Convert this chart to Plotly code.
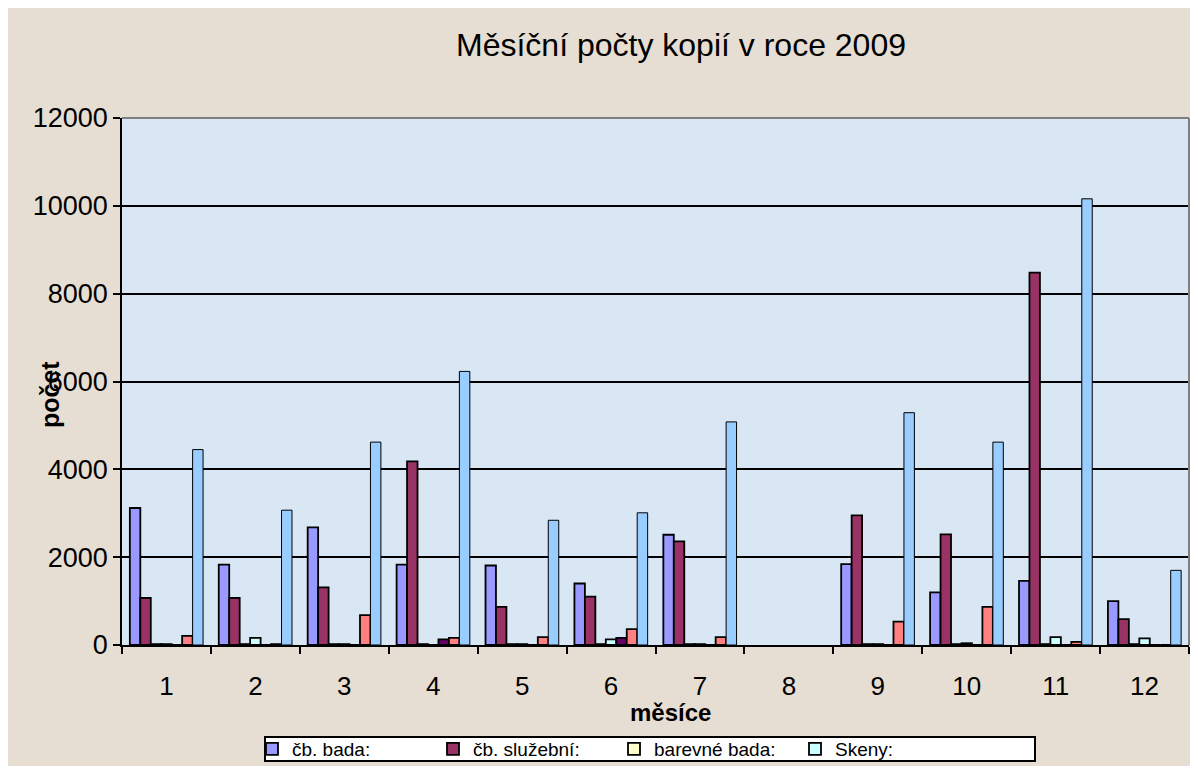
import plotly.graph_objects as go

months = ["1", "2", "3", "4", "5", "6", "7", "8", "9", "10", "11", "12"]

cb_bada = [3120, 1830, 2680, 1830, 1810, 1400, 2510, None, 1840, 1200, 1460, 1000]
cb_sluzebni = [1070, 1070, 1310, 4180, 870, 1100, 2360, None, 2950, 2520, 8480, 590]
barevne_bada = [20, 20, 20, 20, 20, 20, 20, None, 20, 20, 20, 20]
skeny = [20, 160, 20, 0, 20, 130, 20, None, 20, 40, 180, 150]
serie5 = [0, 0, 0, 130, 0, 160, 0, None, 0, 0, 0, 0]
serie6 = [210, 20, 680, 160, 180, 360, 180, None, 530, 870, 70, 0]
serie7 = [4450, 3070, 4620, 6230, 2840, 3010, 5080, None, 5290, 4620, 10160, 1700]

series = [
    ("čb. bada:", cb_bada, "#9999FF", True, 1.8),
    ("čb. služební:", cb_sluzebni, "#993366", True, 1.8),
    ("barevné bada:", barevne_bada, "#FFFFCC", True, 1.8),
    ("Skeny:", skeny, "#CCFFFF", True, 1.8),
    ("řada 5", serie5, "#660066", False, 1.8),
    ("řada 6", serie6, "#FF8080", False, 1.8),
    ("řada 7", serie7, "#99CCFF", False, 1.0),
]

FONT = "Liberation Sans, Arial, sans-serif"

fig = go.Figure()
for name, vals, color, show, lw in series:
    fig.add_trace(go.Bar(
        x=months, y=vals, name=name, showlegend=show,
        marker=dict(color=color, line=dict(color="#000000", width=lw)),
    ))

OFF = 8  # page body margin
W, H = 1198 - 2 * OFF, 774 - 2 * OFF
L, R, T, B = 114, 1, 110, 121
pw, ph = W - L - R, H - T - B


def px(x):
    return (x - OFF - L) / pw


def py(y):
    return (H - B - (y - OFF)) / ph


fig.update_layout(
    width=W, height=H,
    margin=dict(l=L, r=R, t=T, b=B, pad=0, autoexpand=False),
    paper_bgcolor="#E6DED2",
    plot_bgcolor="#D9E7F5",
    barmode="group",
    bargap=0.1765,
    bargroupgap=0,
    font=dict(family=FONT, color="#000000", size=18),
    title=dict(text="Měsíční počty kopií v roce 2009", x=(681 - OFF) / W, xanchor="center",
               y=1 - (45 - OFF) / H, yanchor="middle", yref="container",
               font=dict(family=FONT, size=32, color="#000000")),
    xaxis=dict(
        showgrid=False, showline=True, linecolor="#000000", linewidth=2,
        ticks="outside", ticklen=7, tickwidth=1.5, tickcolor="#000000",
        tickson="boundaries", tickfont=dict(size=26, family=FONT, color="#000000"),
        ticklabelstandoff=17, zeroline=False,
    ),
    yaxis=dict(
        range=[0, 12000], dtick=2000, tickformat="d",
        showgrid=True, gridcolor="#000000", gridwidth=2,
        showline=True, linecolor="#000000", linewidth=1.5,
        ticks="outside", ticklen=7, tickwidth=1.5, tickcolor="#000000",
        tickfont=dict(size=27, family=FONT, color="#000000"), zeroline=False,
    ),
    legend=dict(
        orientation="h", x=px(252), xanchor="left", y=py(749), yanchor="middle",
        bgcolor="rgba(0,0,0,0)", borderwidth=0,
        font=dict(size=19, family=FONT, color="#000000"),
        entrywidth=136, entrywidthmode="pixels",
        itemwidth=30, tracegroupgap=0,
    ),
    annotations=[
        dict(text="<b>měsíce</b>", x=px(670), y=py(713), xref="paper", yref="paper",
             showarrow=False, xanchor="center", yanchor="middle",
             font=dict(size=24, family=FONT, color="#000000")),
        dict(text="<b>počet</b>", x=px(50), y=py(395), xref="paper", yref="paper",
             showarrow=False, textangle=-90, xanchor="center", yanchor="middle",
             font=dict(size=25, family=FONT, color="#000000")),
    ],
    shapes=[
        dict(type="line", xref="paper", yref="paper", x0=0, x1=1, y0=1, y1=1,
             line=dict(color="#7F7F7F", width=2)),
        dict(type="line", xref="paper", yref="paper", x0=1, x1=1, y0=0, y1=1,
             line=dict(color="#7F7F7F", width=2)),
        dict(type="rect", xref="paper", yref="paper", x0=px(265), x1=px(1035),
             y0=py(761), y1=py(737), fillcolor="#FFFFFF",
             line=dict(color="#000000", width=2), layer="above"),
    ],
)

fig.write_html("out.html")
